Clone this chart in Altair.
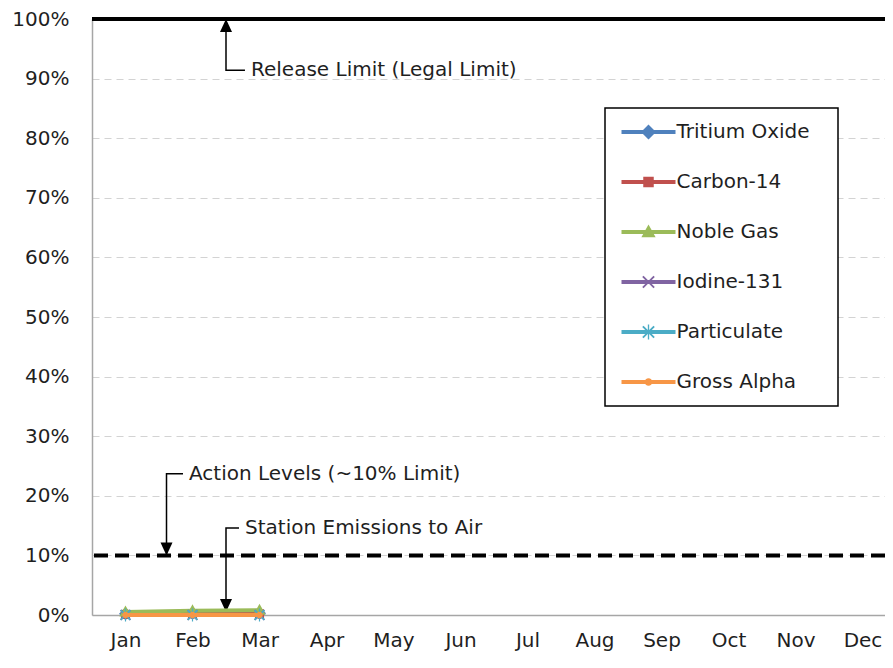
import altair as alt
import pandas as pd

# ---------------- data ----------------
months = ["Jan", "Feb", "Mar", "Apr", "May", "Jun", "Jul", "Aug", "Sep", "Oct", "Nov", "Dec"]
series = ["Tritium Oxide", "Carbon-14", "Noble Gas", "Iodine-131", "Particulate", "Gross Alpha"]
colors = ["#4f81bd", "#c0504d", "#9bbb59", "#8064a2", "#4bacc6", "#f79646"]

report_month = [1, 2, 3]
tritium_oxide = [0.002, 0.003, 0.003]
carbon_14 = [0.001, 0.002, 0.002]
noble_gas = [0.005, 0.007, 0.008]
iodine_131 = [0.0, 0.0, 0.0]
particulate = [0.0, 0.0, 0.0]
gross_alpha = [0.0, 0.0, 0.0]
series_values = [tritium_oxide, carbon_14, noble_gas, iodine_131, particulate, gross_alpha]

y_ticks = [0.0, 0.1, 0.2, 0.3, 0.4, 0.5, 0.6, 0.7, 0.8, 0.9, 1.0]
release_limit = [1.0]
action_level = [0.10]

ann_label = ["Release Limit (Legal Limit)", "Action Levels (~10% Limit)", "Station Emissions to Air"]
ann_arrow_x = [2.5, 1.612, 2.5]
ann_text_x = [2.873, 1.948, 2.784]
ann_text_y = [0.914, 0.237, 0.146]
ann_tip_y = [1.0, 0.10, 0.005]
ann_dir = ["up", "down", "down"]

# ---------------- tables ----------------
rows = []
for s, vals in zip(series, series_values):
    for m, v in zip(report_month, vals):
        rows.append({"Series": s, "Month": m, "Value": v})
df = pd.DataFrame(rows)

limits = pd.DataFrame({"level": release_limit})
actions = pd.DataFrame({"level": action_level})

arrow_rows = []
for lab, ax, tx, ty, tip in zip(ann_label, ann_arrow_x, ann_text_x, ann_text_y, ann_tip_y):
    arrow_rows.append({"label": lab, "ord": 0, "ax": ax, "ay": tip})
    arrow_rows.append({"label": lab, "ord": 1, "ax": ax, "ay": ty})
    arrow_rows.append({"label": lab, "ord": 2, "ax": tx - 0.09, "ay": ty})
arrows = pd.DataFrame(arrow_rows)
ann = pd.DataFrame({"label": ann_label, "ax": ann_arrow_x, "tx": ann_text_x,
                    "ty": ann_text_y, "tip": ann_tip_y, "dir": ann_dir})

# ---------------- styles ----------------
FONT = "DejaVu Sans"
FS = 20
TXT = "#1f1f1f"
PLOT_W, PLOT_H = 793, 596
STEP = 67.0


def poly(pts):
    return "M" + "L".join(f"{x:.3f},{y:.3f}" for x, y in pts) + "Z"


def circle(r):
    return f"M{r},0A{r},{r} 0 1,1 {-r},0A{r},{r} 0 1,1 {r},0Z"


a, s = 0.75, 0.09
xshape = poly([(-a + s, -a - s), (a + s, a - s), (a - s, a + s), (-a - s, -a + s)]) + \
    poly([(-a - s, a - s), (a - s, -a - s), (a + s, -a + s), (-a + s, a + s)])
marker_paths = [
    poly([(0, -1), (1, 0), (0, 1), (-1, 0)]),
    poly([(-0.7, -0.7), (0.7, -0.7), (0.7, 0.7), (-0.7, 0.7)]),
    poly([(0, -1), (0.95, 0.7), (-0.95, 0.7)]),
    xshape,
    xshape + poly([(-0.09, -1), (0.09, -1), (0.09, 1), (-0.09, 1)]),
    circle(0.5),
]
seg = poly([(-3.6, -0.27), (3.6, -0.27), (3.6, 0.27), (-3.6, 0.27)])
right_guide = "M23.4,0L23.4,0"   # zero-area point: only widens the legend frame
legend_paths = [seg + p + right_guide for p in marker_paths]

x_domain = [0.5, 0.5 + PLOT_W / STEP]
x_scale = alt.Scale(domain=x_domain, nice=False, zero=False)
y_scale = alt.Scale(domain=[0, 1], nice=False)

label_expr = "[" + ",".join(f"'{m}'" for m in months) + "][datum.value - 1]"
x_axis = alt.Axis(values=list(range(1, 13)), labelExpr=label_expr, ticks=False, tickSize=0, grid=False,
                  domainColor="#a6a6a6", domainWidth=1.5, labelFont=FONT, labelFontSize=FS,
                  labelColor=TXT, labelPadding=31, labelBaseline="alphabetic", title=None)
y_axis = alt.Axis(values=y_ticks, format=".0%", ticks=False, tickSize=0, grid=True, gridDash=[7, 5],
                  gridColor="#d3d3d3", gridWidth=1, domainColor="#a6a6a6", domainWidth=1.5,
                  labelFont=FONT, labelFontSize=FS, labelColor=TXT, labelPadding=23, title=None)


def X(f):
    return alt.X(f, type="quantitative", scale=x_scale, axis=x_axis)


def Y(f):
    return alt.Y(f, type="quantitative", scale=y_scale, axis=y_axis)


layers = []

# limits
layers.append(alt.Chart(limits).mark_rule(color="black", strokeWidth=4).encode(y=Y("level")))
layers.append(alt.Chart(actions).mark_rule(color="black", strokeWidth=4, strokeDash=[14, 7]).encode(y=Y("level")))

# annotation arrows
layers.append(alt.Chart(arrows).mark_line(color="black", strokeWidth=1.5).encode(
    x=X("ax"), y=Y("ay"), detail="label:N", order="ord:Q"))
layers.append(alt.Chart(ann).transform_filter(alt.datum.dir == "up").mark_point(
    shape="M0,0L0.6,1.3L-0.6,1.3Z", filled=True, size=400, color="black", opacity=1, strokeWidth=0
).encode(x=X("ax"), y=Y("tip")))
layers.append(alt.Chart(ann).transform_filter(alt.datum.dir == "down").mark_point(
    shape="M0,0L0.6,-1.3L-0.6,-1.3Z", filled=True, size=400, color="black", opacity=1, strokeWidth=0
).encode(x=X("ax"), y=Y("tip")))
layers.append(alt.Chart(ann).mark_text(align="left", baseline="middle", font=FONT, fontSize=FS,
                                       color=TXT).encode(x=X("tx"), y=Y("ty"), text="label:N"))

# series
for name, col, path in zip(series, colors, marker_paths):
    base = alt.Chart(df).transform_filter(alt.datum.Series == name)
    layers.append(base.mark_line(color=col, strokeWidth=4).encode(x=X("Month"), y=Y("Value")))
    layers.append(base.mark_point(shape=path, filled=True, size=170, color=col, opacity=1,
                                  strokeWidth=0).encode(x=X("Month"), y=Y("Value")))

# legend-only layer (no rows drawn)
layers.append(alt.Chart(df).transform_filter(alt.datum.Value < 0).mark_point(
    filled=True, size=225, strokeWidth=0, opacity=1).encode(
    x=X("Month"), y=Y("Value"),
    fill=alt.Fill("Series:N", scale=alt.Scale(domain=series, range=colors), legend=alt.Legend(title=None)),
    shape=alt.Shape("Series:N", scale=alt.Scale(domain=series, range=legend_paths), legend=alt.Legend(title=None)),
))

chart = alt.layer(*layers).properties(
    width=PLOT_W, height=PLOT_H,
    autosize=alt.AutoSizeParams(type="none"),
    padding={"left": 84, "top": 11, "right": 0, "bottom": 37},
).configure_view(stroke=None).configure_legend(
    orient="none", legendX=513, legendY=89, padding=14, rowPadding=30, symbolSize=225,
    labelFont=FONT, labelFontSize=FS, labelColor=TXT, labelOffset=18, symbolOffset=19.5,
    strokeColor="black", strokeWidth=1.5, fillColor="white", symbolStrokeWidth=0, symbolOpacity=1,
)

chart.save("out.html", embed_options={"renderer": "svg", "actions": False})
